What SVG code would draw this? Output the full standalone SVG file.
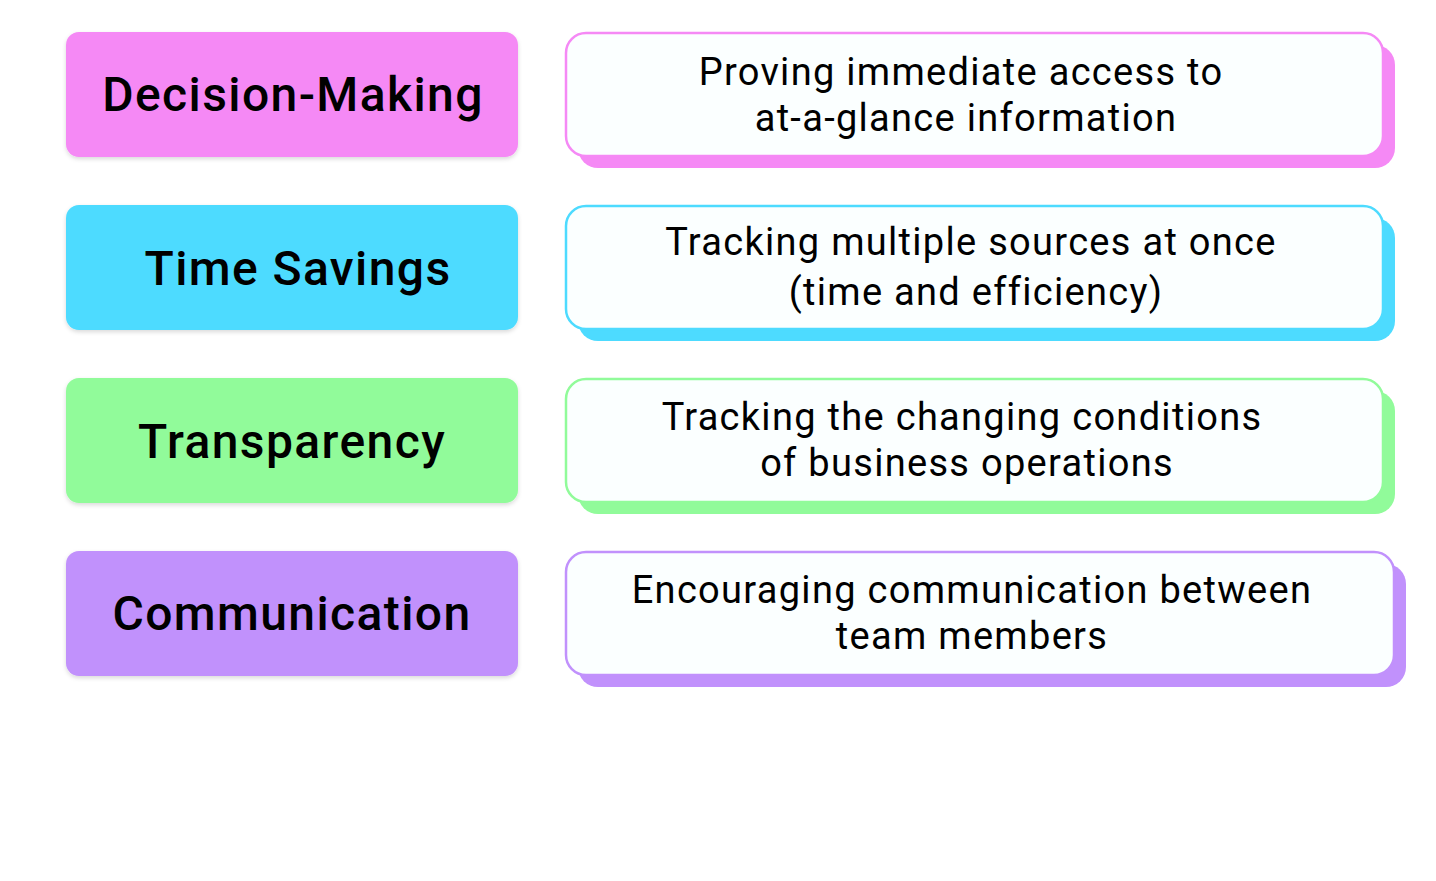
<svg xmlns="http://www.w3.org/2000/svg" width="1436" height="881" viewBox="0 0 1436 881">
<defs>
<filter id="sh" x="-5%" y="-10%" width="110%" height="125%">
<feDropShadow dx="0" dy="2" stdDeviation="2" flood-color="#000" flood-opacity="0.15"/>
</filter>
</defs>
<style>
.lab{font-family:Roboto,"Liberation Sans",sans-serif;font-weight:500;font-size:48px;letter-spacing:1.4px;fill:#000;text-anchor:middle}
.desc{font-family:Roboto,"Liberation Sans",sans-serif;font-weight:400;font-size:38px;letter-spacing:1.3px;fill:#000;text-anchor:middle}
.card{fill:#FBFFFF;stroke-width:2.5}
</style>
<rect width="1436" height="881" fill="#fff"/>
<g id="row1">
<g id="n-decision"><rect x="66" y="32" width="452" height="125" rx="13" fill="#F589F5" filter="url(#sh)"/><text class="lab" x="293" y="111">Decision-Making</text></g>
<g id="d-decision"><rect x="578" y="45" width="817" height="123" rx="20" fill="#F589F5"/><rect class="card" x="566" y="33" width="817" height="123" rx="20" stroke="#F589F5"/><text class="desc" x="961" y="85">Proving immediate access to</text><text class="desc" x="966" y="131">at-a-glance information</text></g>
</g>
<g id="row2">
<g id="n-time"><rect x="66" y="205" width="452" height="125" rx="13" fill="#4DDBFF" filter="url(#sh)"/><text class="lab" x="298" y="285">Time Savings</text></g>
<g id="d-time"><rect x="578" y="218" width="817" height="123" rx="20" fill="#4DDBFF"/><rect class="card" x="566" y="206" width="817" height="123" rx="20" stroke="#4DDBFF"/><text class="desc" x="971" y="255">Tracking multiple sources at once</text><text class="desc" x="976" y="305">(time and efficiency)</text></g>
</g>
<g id="row3">
<g id="n-transparency"><rect x="66" y="378" width="452" height="125" rx="13" fill="#91FB9A" filter="url(#sh)"/><text class="lab" x="292" y="458">Transparency</text></g>
<g id="d-transparency"><rect x="578" y="391" width="817" height="123" rx="20" fill="#91FB9A"/><rect class="card" x="566" y="379" width="817" height="123" rx="20" stroke="#91FB9A"/><text class="desc" x="962" y="430">Tracking the changing conditions</text><text class="desc" x="967" y="476">of business operations</text></g>
</g>
<g id="row4">
<g id="n-communication"><rect x="66" y="551" width="452" height="125" rx="13" fill="#C191FC" filter="url(#sh)"/><text class="lab" x="292" y="630">Communication</text></g>
<g id="d-communication"><rect x="578" y="564" width="828" height="123" rx="20" fill="#C191FC"/><rect class="card" x="566" y="552" width="828" height="123" rx="20" stroke="#C191FC"/><text class="desc" x="972" y="603">Encouraging communication between</text><text class="desc" x="972" y="649">team members</text></g>
</g>
<g id="connectors"/>
</svg>
